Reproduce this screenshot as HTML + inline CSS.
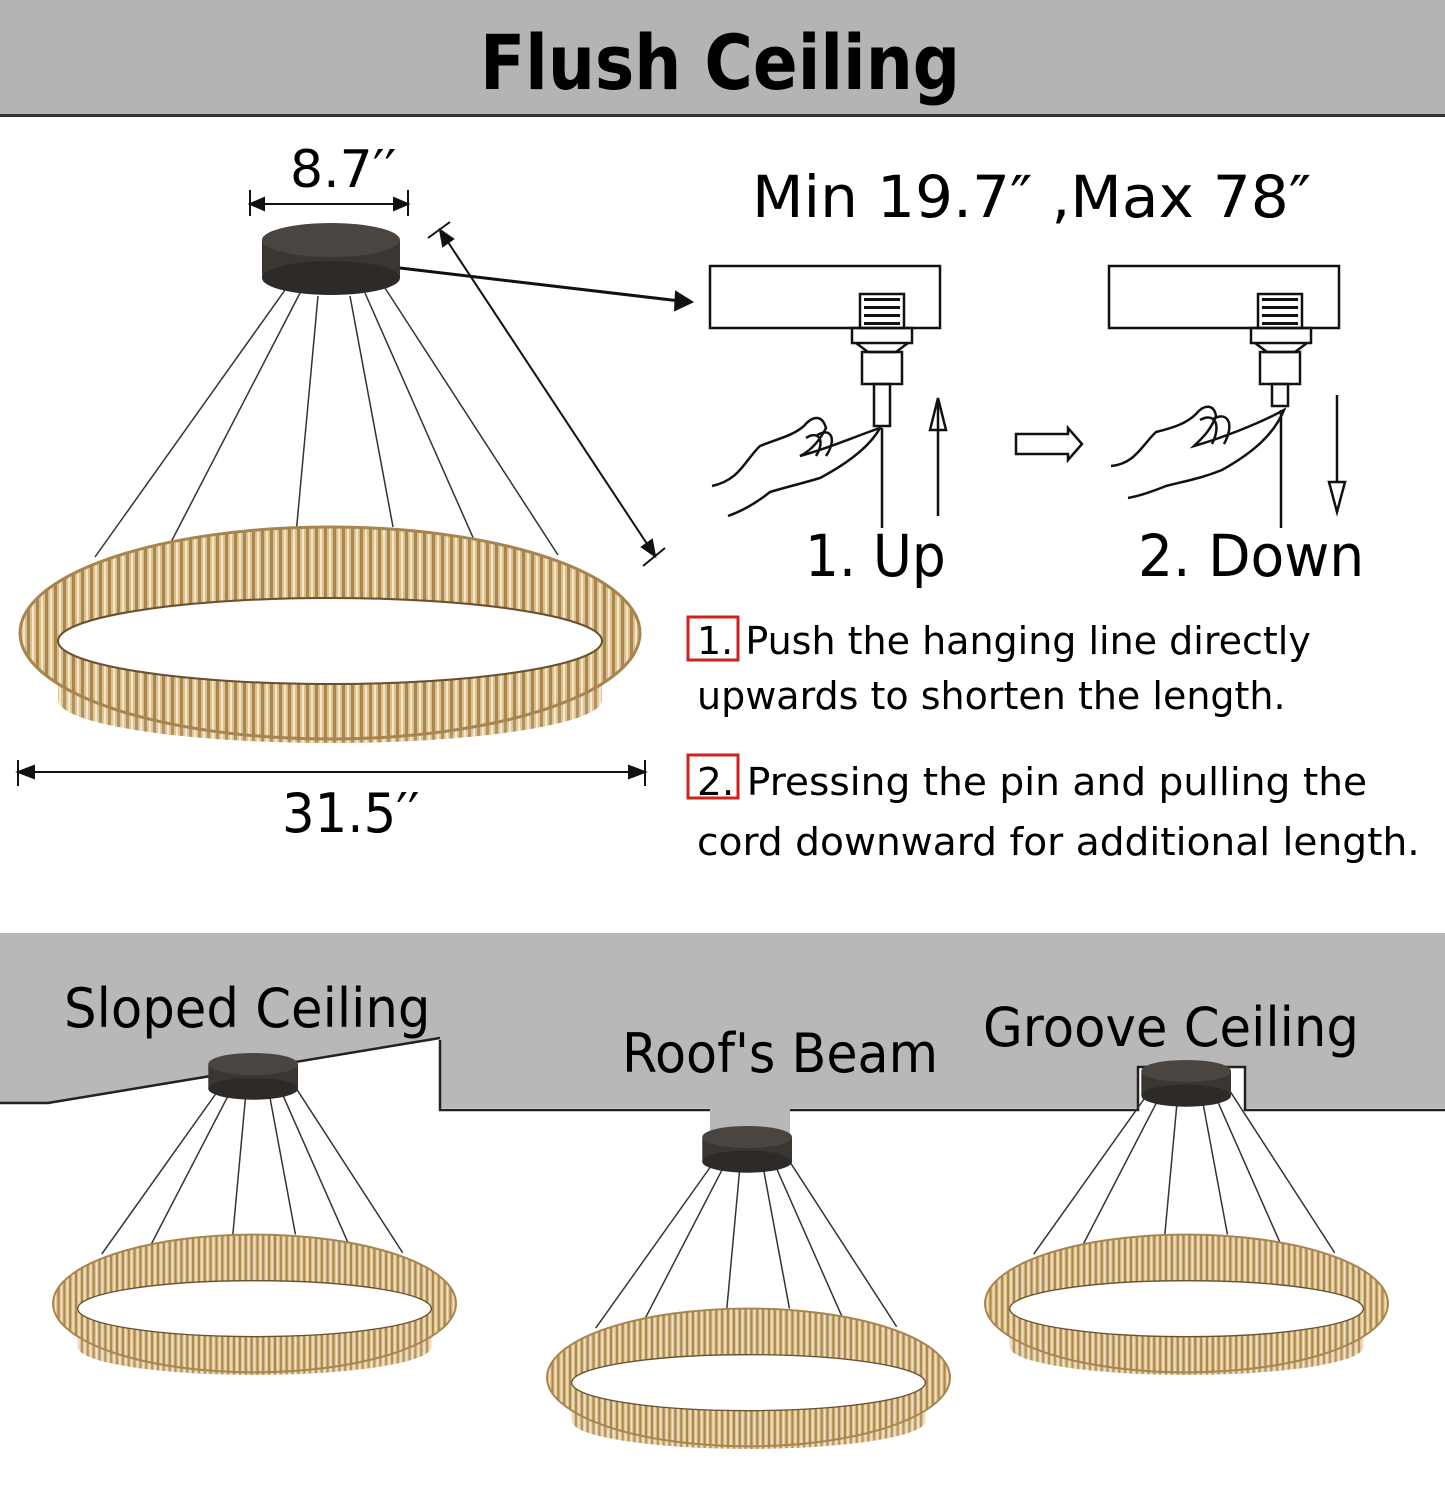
<!DOCTYPE html>
<html><head><meta charset="utf-8"><style>
html,body{margin:0;padding:0;background:#fff;}
body{width:1445px;height:1511px;position:relative;overflow:hidden;font-family:"DejaVu Sans","Liberation Sans",sans-serif;}
.t{position:absolute;white-space:nowrap;color:#000;transform-origin:0 0;}
</style></head><body>
<svg width="1445" height="1511" style="position:absolute;left:0;top:0">
<defs>
<pattern id="cr" width="9" height="30" patternUnits="userSpaceOnUse">
<rect width="9" height="30" fill="#dcc08a"/>
<rect x="0" width="3" height="30" fill="#a98650"/>
<rect x="5" width="2" height="30" fill="#f3e6cc"/>
</pattern>
<g id="ring">
<path fill-rule="evenodd" fill="url(#cr)" stroke="#9c7a45" stroke-width="2" d="M20,633 a310,106 0 1,0 620,0 a310,106 0 1,0 -620,0 Z M58,641 a272,43 0 1,0 544,0 a272,43 0 1,0 -544,0 Z"/>
<ellipse cx="330" cy="641" rx="272" ry="43" fill="#fff" stroke="#6a5030" stroke-width="2"/>
<path d="M58,650 a272,43 0 0,0 544,0 L602,700 a272,43 0 0,1 -544,0 Z" fill="url(#cr)" opacity="0.9"/>
<ellipse cx="330" cy="633" rx="310" ry="106" fill="none" stroke="#a88450" stroke-width="3"/>
</g>
<g id="canopy">
<rect x="262" y="240" width="138" height="38" fill="#3a3632"/>
<ellipse cx="331" cy="278" rx="69" ry="17" fill="#2e2a27"/>
<ellipse cx="331" cy="240" rx="69" ry="17" fill="#4a4540"/>
</g>
</defs>
<rect x="0" y="0" width="1445" height="115" fill="#b4b4b4"/>
<rect x="0" y="114" width="1445" height="3" fill="#333"/>
<path d="M0,933 L1445,933 L1445,1108 L1245,1108 L1245,1067 L1138,1067 L1138,1108 L790,1108 L790,1138 L710,1138 L710,1108 L440,1108 L440,1038 L48,1103 L0,1103 Z" fill="#b8b8b8"/>
<path d="M0,1103 L48,1103 L440,1038 M440,1040 L440,1110 L710,1110 M790,1110 L1138,1110 L1138,1067 L1245,1067 L1245,1110 L1445,1110" fill="none" stroke="#222" stroke-width="2.5"/>

<g stroke="#333" stroke-width="1.5">
<line x1="285" y1="290" x2="95" y2="557"/><line x1="300" y1="293" x2="110" y2="660"/>
<line x1="318" y1="296" x2="282" y2="686"/><line x1="350" y1="296" x2="393" y2="527"/>
<line x1="365" y1="293" x2="528" y2="662"/><line x1="385" y1="288" x2="558" y2="555"/>
</g>
<use href="#ring"/>
<use href="#canopy"/>
<g stroke="#111" stroke-width="2" fill="#111">
<line x1="250" y1="204" x2="408" y2="204"/>
<line x1="250" y1="190" x2="250" y2="216"/><line x1="408" y1="190" x2="408" y2="216"/>
<path d="M250,204 l14,-6 v12z M408,204 l-14,-6 v12z"/>
<line x1="18" y1="772" x2="645" y2="772"/>
<line x1="18" y1="760" x2="18" y2="786"/><line x1="645" y1="760" x2="645" y2="786"/>
<path d="M18,772 l16,-6 v12z M645,772 l-16,-6 v12z"/>
<line x1="440" y1="230" x2="655" y2="556"/>
<line x1="428" y1="238" x2="450" y2="222"/><line x1="643" y1="566" x2="665" y2="548"/>
<path d="M440,230 l3,16 l10,-7z M655,556 l-3,-16 l-10,7z"/>
<line x1="400" y1="268" x2="680" y2="301" stroke-width="3"/>
<path d="M692,302 l-16,-10 l-1,18z"/>
</g>
<g fill="none" stroke="#111" stroke-width="2.5">
<rect x="710" y="266" width="230" height="62"/>
<rect x="1109" y="266" width="230" height="62"/>
<rect x="860" y="294" width="44" height="34" fill="#fff"/>
<rect x="1258" y="294" width="44" height="34" fill="#fff"/>
<rect x="852" y="328" width="60" height="15"/><rect x="1251" y="328" width="60" height="15"/>
<path d="M856,343 L868,352 H896 L908,343"/><path d="M1255,343 L1267,352 H1295 L1307,343"/>
<rect x="862" y="352" width="40" height="32"/><rect x="1260" y="352" width="40" height="32"/>
<rect x="874" y="384" width="16" height="42"/><rect x="1272" y="384" width="16" height="22"/>
<line x1="882" y1="428" x2="882" y2="528"/><line x1="1281" y1="410" x2="1281" y2="528"/>
<line x1="938" y1="400" x2="938" y2="516"/>
<path d="M930,430 L938,398 L946,430 Z"/>
<line x1="1337" y1="395" x2="1337" y2="482"/>
<path d="M1329,482 L1337,512 L1345,482 Z"/>
<path d="M1016,434 H1068 V428 L1082,444 L1068,460 V454 H1016 Z"/>
<path d="M712,486 C740,480 745,460 760,446 C780,438 792,436 804,426 C812,416 822,414 826,428 C818,444 808,452 800,456 C830,448 856,436 880,428 C870,446 850,462 820,478 C800,484 790,486 770,492 C760,500 745,510 728,516"/>
<path d="M1111,466 C1135,464 1142,445 1156,432 C1172,428 1186,424 1196,414 C1204,404 1214,404 1216,416 C1210,432 1200,440 1194,446 C1222,438 1258,424 1284,410 C1274,434 1254,452 1222,470 C1202,478 1190,480 1166,486 C1156,490 1140,496 1128,498"/>
<path d="M806,438 C818,430 826,440 816,456 M816,436 C830,426 838,438 826,456 M1200,420 C1214,412 1222,424 1212,444 M1212,420 C1226,410 1236,422 1224,444"/>
</g>
<g fill="#111">
<rect x="864" y="298" width="36" height="3"/><rect x="864" y="306" width="36" height="3"/><rect x="864" y="314" width="36" height="3"/><rect x="864" y="322" width="36" height="3"/>
<rect x="1262" y="298" width="36" height="3"/><rect x="1262" y="306" width="36" height="3"/><rect x="1262" y="314" width="36" height="3"/><rect x="1262" y="322" width="36" height="3"/>
</g>
<rect x="688" y="617" width="50" height="43" fill="none" stroke="#d21f1f" stroke-width="3"/>
<rect x="688" y="755" width="50" height="43" fill="none" stroke="#d21f1f" stroke-width="3"/>

<g transform="translate(40,892) scale(0.65)">
<g stroke="#333" stroke-width="2.3">
<line x1="285" y1="290" x2="95" y2="557"/><line x1="300" y1="293" x2="110" y2="660"/>
<line x1="318" y1="296" x2="282" y2="686"/><line x1="350" y1="296" x2="393" y2="527"/>
<line x1="365" y1="293" x2="528" y2="662"/><line x1="385" y1="288" x2="558" y2="555"/>
</g>
<use href="#ring"/></g>
<g transform="translate(534,966) scale(0.65)">
<g stroke="#333" stroke-width="2.3">
<line x1="285" y1="290" x2="95" y2="557"/><line x1="300" y1="293" x2="110" y2="660"/>
<line x1="318" y1="296" x2="282" y2="686"/><line x1="350" y1="296" x2="393" y2="527"/>
<line x1="365" y1="293" x2="528" y2="662"/><line x1="385" y1="288" x2="558" y2="555"/>
</g>
<use href="#ring"/></g>
<g transform="translate(972,892) scale(0.65)">
<g stroke="#333" stroke-width="2.3">
<line x1="285" y1="290" x2="95" y2="557"/><line x1="300" y1="293" x2="110" y2="660"/>
<line x1="318" y1="296" x2="282" y2="686"/><line x1="350" y1="296" x2="393" y2="527"/>
<line x1="365" y1="293" x2="528" y2="662"/><line x1="385" y1="288" x2="558" y2="555"/>
</g>
<use href="#ring"/></g>
<g transform="translate(38,908) scale(0.65)"><use href="#canopy"/></g>
<g transform="translate(532,981) scale(0.65)"><use href="#canopy"/></g>
<g transform="translate(971,915) scale(0.65)"><use href="#canopy"/></g>
</svg>

<div class="t" style="left:480px;top:18px;font-size:76px;font-weight:bold;transform:scaleX(0.87);">Flush Ceiling</div>
<div class="t" style="left:290px;top:140px;font-size:52px;">8.7′′</div>
<div class="t" style="left:282px;top:782px;font-size:54px;transform:scaleX(0.95);">31.5′′</div>
<div class="t" style="left:752px;top:163px;font-size:58px;transform:scaleX(1.03);">Min 19.7″ ,Max 78″</div>
<div class="t" style="left:805px;top:522px;font-size:58px;transform:scaleX(0.92);">1. Up</div>
<div class="t" style="left:1138px;top:522px;font-size:58px;transform:scaleX(0.95);">2. Down</div>
<div class="t" style="left:697px;top:614px;font-size:38px;line-height:55px;">1. Push the hanging line directly<br>upwards to shorten the length.</div>
<div class="t" style="left:697px;top:752px;font-size:38px;line-height:60px;transform:scaleX(1.03);">2. Pressing the pin and pulling the<br>cord downward for additional length.</div>
<div class="t" style="left:64px;top:977px;font-size:54px;transform:scaleX(0.95);">Sloped Ceiling</div>
<div class="t" style="left:622px;top:1022px;font-size:54px;transform:scaleX(0.94);">Roof's Beam</div>
<div class="t" style="left:983px;top:996px;font-size:54px;transform:scaleX(0.95);">Groove Ceiling</div>
</body></html>
